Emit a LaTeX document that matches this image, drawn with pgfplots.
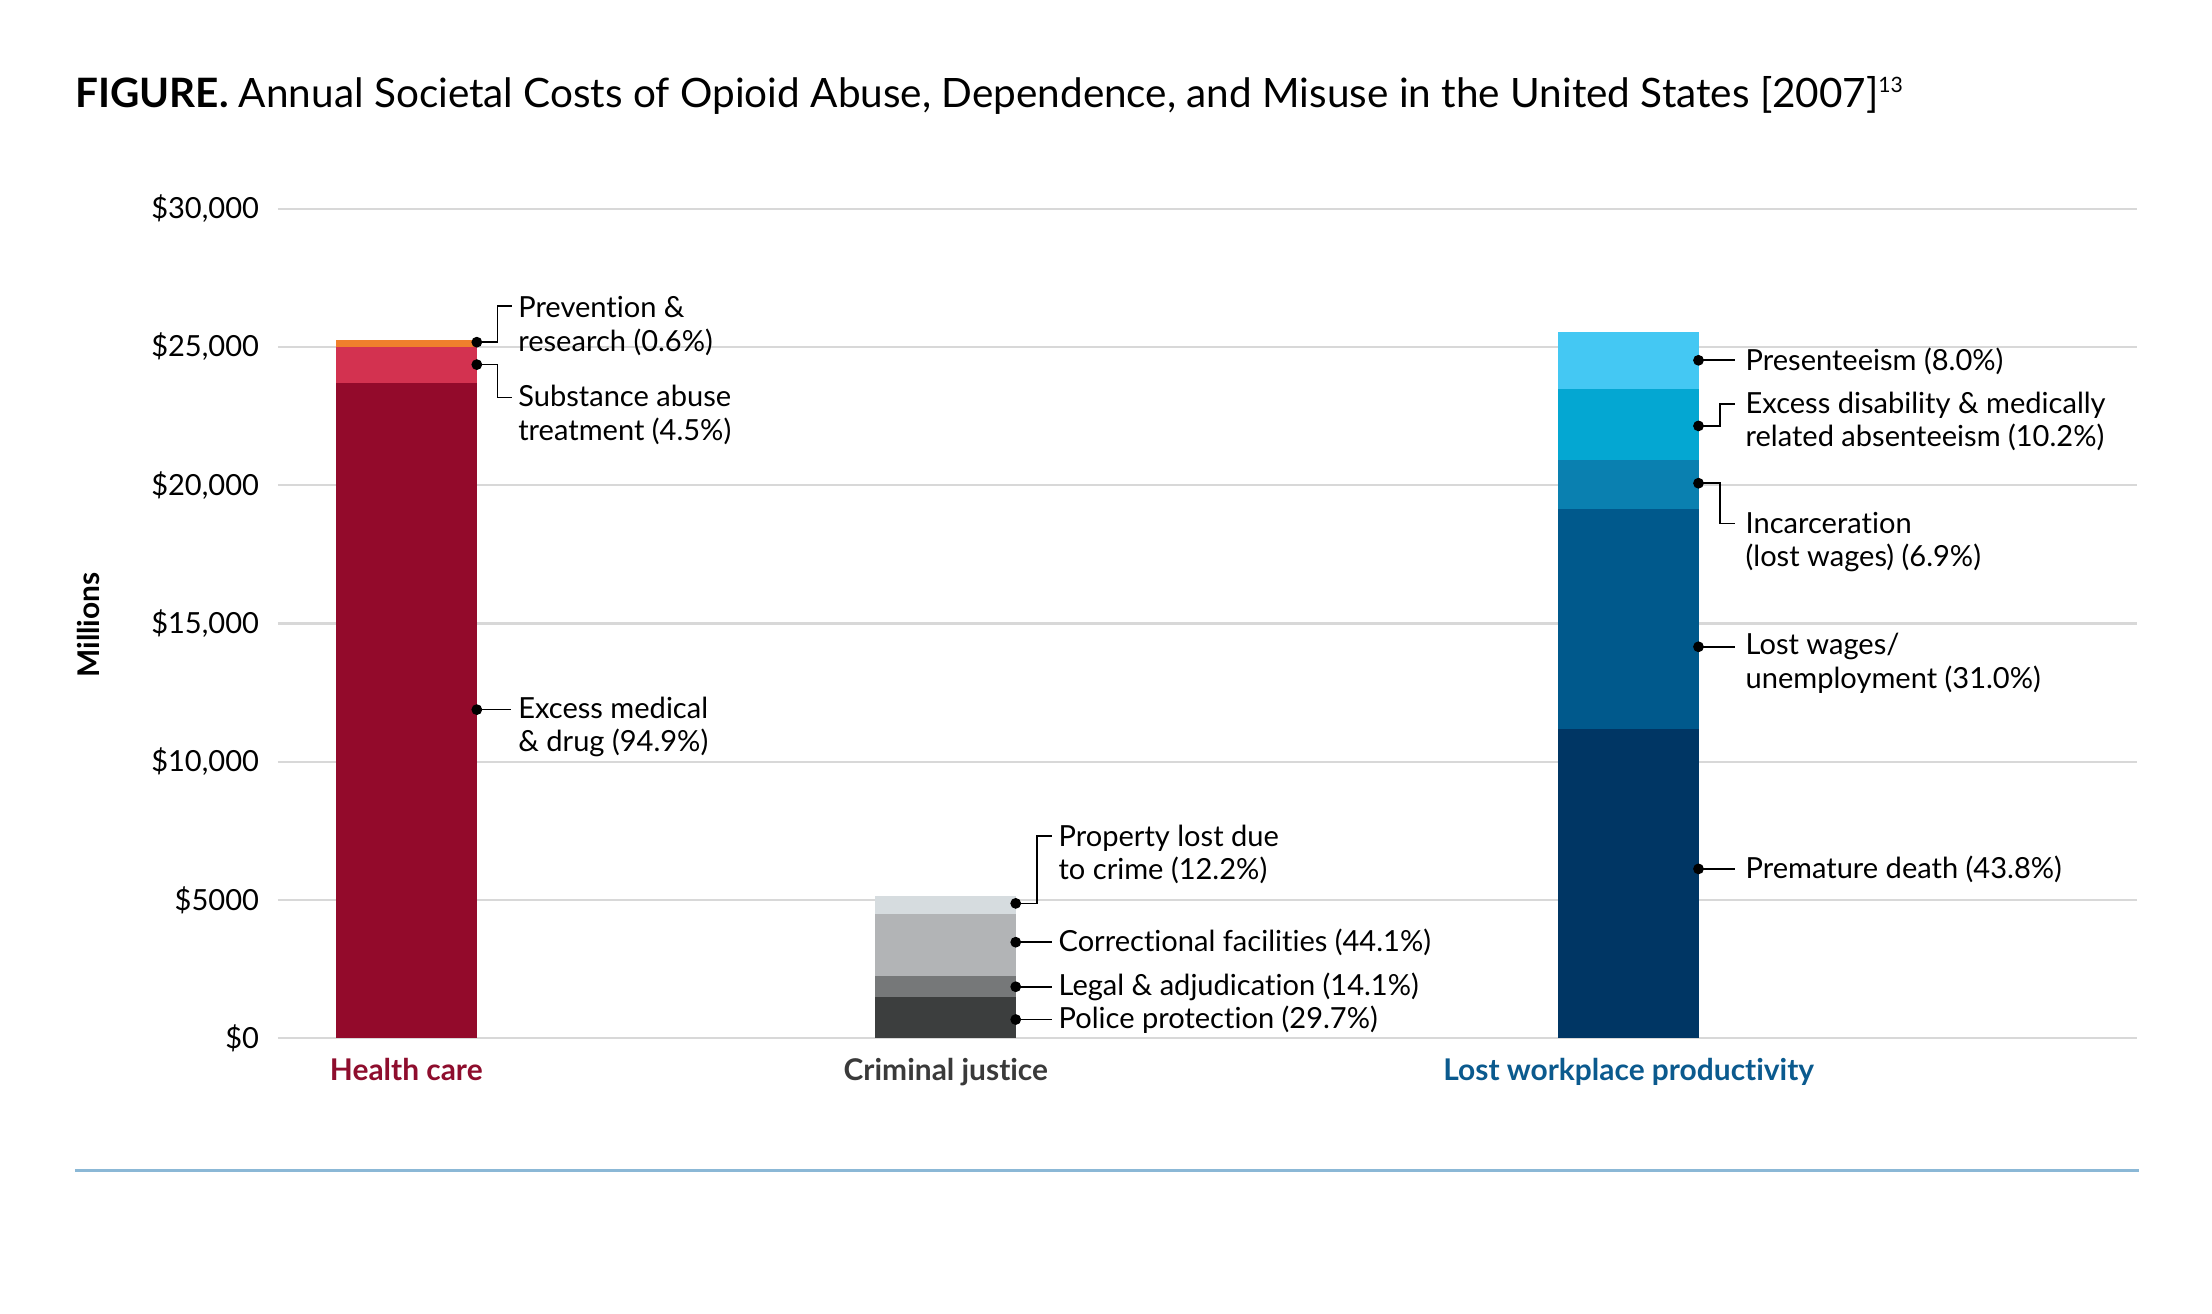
\documentclass[border=0pt]{standalone}
\usepackage{fontspec}
\setmainfont{Lato}[Ligatures=NoCommon]
\usepackage{pgfplots}
\pgfplotsset{compat=1.18}
\definecolor{hcA}{HTML}{930A2B}
\definecolor{hcB}{HTML}{D33250}
\definecolor{hcC}{HTML}{F07F2C}
\definecolor{cjA}{HTML}{3C3E3E}
\definecolor{cjB}{HTML}{767879}
\definecolor{cjC}{HTML}{B2B4B6}
\definecolor{cjD}{HTML}{D6DCDF}
\definecolor{wpA}{HTML}{003664}
\definecolor{wpB}{HTML}{00598C}
\definecolor{wpC}{HTML}{0A80B0}
\definecolor{wpD}{HTML}{04A7D2}
\definecolor{wpE}{HTML}{44C8F3}
\definecolor{hcLab}{HTML}{8E0D2D}
\definecolor{cjLab}{HTML}{3A3A3A}
\definecolor{wpLab}{HTML}{0B5A8E}
\definecolor{gridc}{HTML}{D8D8D8}
\definecolor{rulec}{HTML}{8BB8D6}
\newcommand{\lab}{\fontsize{10.3}{11.8}\selectfont}
\newcommand{\catlab}{\fontsize{10.6}{12}\selectfont\bfseries}
\begin{document}
\begin{tikzpicture}
\useasboundingbox (-98.5pt,-97.4pt) rectangle (685.5pt,368pt);
\node[anchor=base west, inner sep=0pt] at (-72pt,330pt)
  {\fontsize{14.35}{16}\selectfont\textbf{FIGURE.} Annual Societal Costs of Opioid Abuse, Dependence, and Misuse in the United States [2007]\textsuperscript{\fontsize{7.5}{8}\selectfont 13}};
\node[rotate=90, inner sep=0pt] at (-67pt,146.5pt) {\catlab Millions};
\draw[color=rulec, line width=1.1pt] (-72pt,-47pt) -- (659.5pt,-47pt);
\begin{axis}[
  at={(0pt,0pt)}, anchor=south west,
  scale only axis, width=659pt, height=294pt,
  xmin=197, xmax=1515, ymin=0, ymax=30000,
  clip=false,
  axis line style={draw=none},
  tick style={draw=none},
  ybar stacked, bar width=100,
  ymajorgrids, major grid style={color=gridc, line width=0.8pt},
  ytick={0,5000,10000,15000,20000,25000,30000},
  yticklabels={{\$0},{\$5000},{\$10,000},{\$15,000},{\$20,000},{\$25,000},{\$30,000}},
  yticklabel style={anchor=east, inner sep=0pt, xshift=-6.5pt, font=\lab},
  xtick={288,670.5,1154.5},
  xticklabels={{\textcolor{hcLab}{Health care}},{\textcolor{cjLab}{Criminal justice}},{\textcolor{wpLab}{Lost workplace productivity}}},
  xticklabel style={anchor=base, inner sep=0pt, yshift=-15pt, font=\catlab},
  scaled y ticks=false,
]
% Health care
\addplot[fill=hcA, draw=none] coordinates {(288,23700) (670.5,0) (1154.5,0)};
\addplot[fill=hcB, draw=none] coordinates {(288,1310) (670.5,0) (1154.5,0)};
\addplot[fill=hcC, draw=none] coordinates {(288,260) (670.5,0) (1154.5,0)};
% Criminal justice
\addplot[fill=cjA, draw=none] coordinates {(288,0) (670.5,1510) (1154.5,0)};
\addplot[fill=cjB, draw=none] coordinates {(288,0) (670.5,727) (1154.5,0)};
\addplot[fill=cjC, draw=none] coordinates {(288,0) (670.5,2250) (1154.5,0)};
\addplot[fill=cjD, draw=none] coordinates {(288,0) (670.5,670) (1154.5,0)};
% Lost workplace productivity
\addplot[fill=wpA, draw=none] coordinates {(288,0) (670.5,0) (1154.5,11200)};
\addplot[fill=wpB, draw=none] coordinates {(288,0) (670.5,0) (1154.5,7940)};
\addplot[fill=wpC, draw=none] coordinates {(288,0) (670.5,0) (1154.5,1760)};
\addplot[fill=wpD, draw=none] coordinates {(288,0) (670.5,0) (1154.5,2600)};
\addplot[fill=wpE, draw=none] coordinates {(288,0) (670.5,0) (1154.5,2056)};
% leader lines
\draw[line width=0.6pt] (axis cs:338,25175) -- (axis cs:352.7,25175) -- (axis cs:352.7,26491) -- (axis cs:363,26491);
\draw[line width=0.6pt] (axis cs:338,24364) -- (axis cs:352.7,24364) -- (axis cs:352.7,23180) -- (axis cs:363,23180);
\draw[line width=0.6pt] (axis cs:338,11886) -- (axis cs:362,11886);
\draw[line width=0.6pt] (axis cs:720,4879) -- (axis cs:735,4879) -- (axis cs:735,7312) -- (axis cs:745.5,7312);
\draw[line width=0.6pt] (axis cs:720,3475) -- (axis cs:745.5,3475);
\draw[line width=0.6pt] (axis cs:720,1864) -- (axis cs:745.5,1864);
\draw[line width=0.6pt] (axis cs:720,678) -- (axis cs:745.5,678);
\draw[line width=0.6pt] (axis cs:1204,24520) -- (axis cs:1230,24520);
\draw[line width=0.6pt] (axis cs:1204,22147) -- (axis cs:1219,22147) -- (axis cs:1219,22943) -- (axis cs:1230,22943);
\draw[line width=0.6pt] (axis cs:1204,20075) -- (axis cs:1219,20075) -- (axis cs:1219,18619) -- (axis cs:1230,18619);
\draw[line width=0.6pt] (axis cs:1204,14159) -- (axis cs:1230,14159);
\draw[line width=0.6pt] (axis cs:1204,6126) -- (axis cs:1230,6126);
% labels
\node[anchor=west, align=left, inner sep=0pt, font=\lab] at (axis cs:367,25757) {Prevention \&\\research (0.6\%)};
\node[anchor=west, align=left, inner sep=0pt, font=\lab] at (axis cs:367,22544) {Substance abuse\\treatment (4.5\%)};
\node[anchor=west, align=left, inner sep=0pt, font=\lab] at (axis cs:367,11272) {Excess medical\\\& drug (94.9\%)};
\node[anchor=west, align=left, inner sep=0pt, font=\lab] at (axis cs:750,6652) {Property lost due\\to crime (12.2\%)};
\node[anchor=west, align=left, inner sep=0pt, font=\lab] at (axis cs:750,3475) {Correctional facilities (44.1\%)};
\node[anchor=west, align=left, inner sep=0pt, font=\lab] at (axis cs:750,1864) {Legal \& adjudication (14.1\%)};
\node[anchor=west, align=left, inner sep=0pt, font=\lab] at (axis cs:750,678) {Police protection (29.7\%)};
\node[anchor=west, align=left, inner sep=0pt, font=\lab] at (axis cs:1237,24474) {Presenteeism (8.0\%)};
\node[anchor=west, align=left, inner sep=0pt, font=\lab] at (axis cs:1237,22297) {Excess disability \& medically\\related absenteeism (10.2\%)};
\node[anchor=west, align=left, inner sep=0pt, font=\lab] at (axis cs:1237,17958) {Incarceration\\(lost wages) (6.9\%)};
\node[anchor=west, align=left, inner sep=0pt, font=\lab] at (axis cs:1237,13559) {Lost wages/\\unemployment (31.0\%)};
\node[anchor=west, align=left, inner sep=0pt, font=\lab] at (axis cs:1237,6126) {Premature death (43.8\%)};
% dots
\addplot[stack plots=false, forget plot, only marks, mark=*, mark size=1.7pt, color=black]
  coordinates {(338,25175) (338,24364) (338,11886) (720,4879) (720,3475) (720,1864) (720,678)
               (1204,24520) (1204,22147) (1204,20075) (1204,14159) (1204,6126)};
\end{axis}
\end{tikzpicture}
\end{document}
